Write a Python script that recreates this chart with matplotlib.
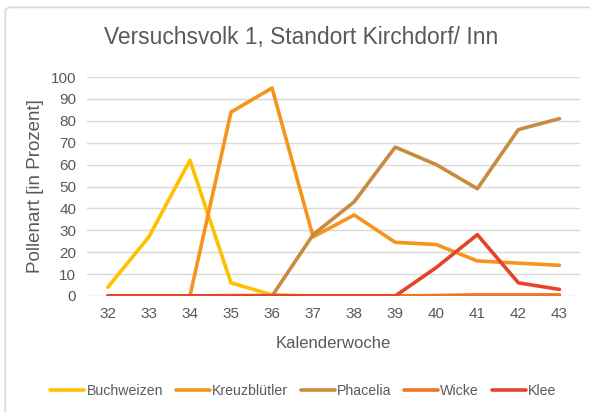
import matplotlib
matplotlib.use("Agg")
import matplotlib.pyplot as plt
from matplotlib.patches import FancyBboxPatch

plt.rcParams['font.family'] = ['Liberation Sans', 'DejaVu Sans']

weeks = [32, 33, 34, 35, 36, 37, 38, 39, 40, 41, 42, 43]
buchweizen = [4, 27, 62, 6, 0.5, 0, 0, 0, 0, 0, 0, 0]
kreuzbluetler = [0, 0, 0, 84, 95, 27, 37, 24.5, 23.5, 16, 15, 14]
phacelia = [0, 0, 0, 0, 0, 28, 43, 68, 60, 49, 76, 81]
wicke = [0, 0, 0, 0.2, 0.2, 0, 0, 0, 0.2, 0.5, 0.5, 0.5]
klee = [0, 0, 0, 0, 0, 0, 0, 0, 13, 28, 6, 3]

series = [
    ("Buchweizen", buchweizen, "#FFC000"),
    ("Kreuzblütler", kreuzbluetler, "#F7941D"),
    ("Phacelia", phacelia, "#C98B3F"),
    ("Wicke", wicke, "#EE7524"),
    ("Klee", klee, "#E5432A"),
]

gray = "#595959"
fig = plt.figure(figsize=(5.9, 4.12), dpi=100)
ax = fig.add_axes([0.148, 0.2816, 0.835, 0.5314])

x = list(range(len(weeks)))
for name, vals, col in series:
    ax.plot(x, vals, color=col, lw=2.6, label=name, solid_capstyle='round')

ax.set_xlim(-0.5, len(weeks) - 0.5)
ax.set_ylim(0, 100)
ax.set_yticks(range(0, 101, 10))
ax.set_xticks(x)
ax.set_xticklabels([str(w) for w in weeks])
ax.grid(axis='y', color='#D9D9D9', lw=1)
ax.set_axisbelow(True)
for s in ax.spines.values():
    s.set_visible(False)
ax.tick_params(length=0, colors=gray, labelsize=11, pad=8)
ax.set_xlabel("Kalenderwoche", color=gray, fontsize=12, labelpad=11)
ax.set_ylabel("Pollenart [in Prozent]", color=gray, fontsize=13.5, labelpad=5)

fig.text(0.511, 0.909, "Versuchsvolk 1, Standort Kirchdorf/ Inn", ha='center',
         va='center', color=gray, fontsize=16.4)

fig.legend(loc='center', bbox_to_anchor=(0.514, 0.05), ncol=5, frameon=False,
           fontsize=10.2, labelcolor=gray, handlelength=2.4, handletextpad=0.15,
           columnspacing=0.9)

border = FancyBboxPatch((0.009, -0.02), 1.05, 1.002, boxstyle="round,pad=0,rounding_size=0.01",
                        transform=fig.transFigure, fill=False, ec='#D9D9D9', lw=1.2)
fig.patches.append(border)

fig.savefig("out.png", dpi=100)
